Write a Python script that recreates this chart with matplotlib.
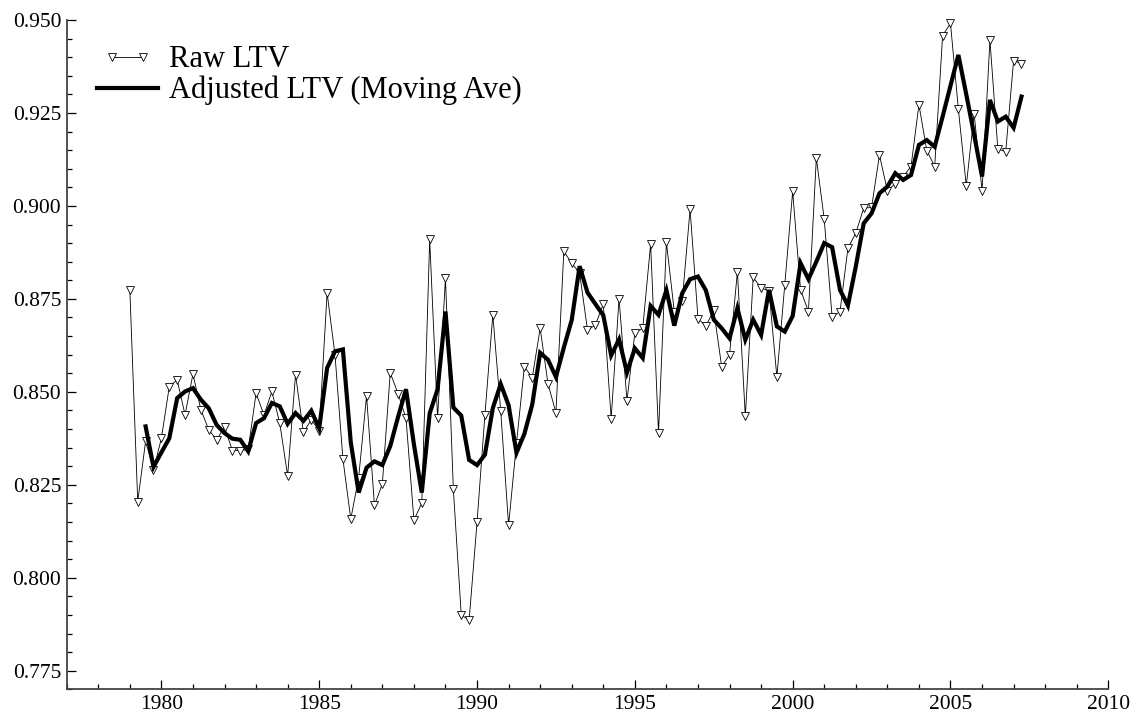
import matplotlib
matplotlib.use("Agg")
import matplotlib.pyplot as plt
from matplotlib.ticker import MultipleLocator, FormatStrFormatter
from matplotlib.legend_handler import HandlerLine2D
import numpy as np

# ---- data (quarterly) ----
raw_start = 1979.0
raw_ltv = [
    0.8775, 0.8205, 0.8367, 0.8290,   # 1979
    0.8375, 0.8514, 0.8532, 0.8438,   # 1980
    0.8548, 0.8452, 0.8398, 0.8371,   # 1981
    0.8405, 0.8342, 0.8342, 0.8345,   # 1982
    0.8496, 0.8438, 0.8501, 0.8416,   # 1983
    0.8274, 0.8546, 0.8391, 0.8425,   # 1984
    0.8396, 0.8766, 0.8600, 0.8320,   # 1985
    0.8158, 0.8269, 0.8489, 0.8195,   # 1986
    0.8252, 0.8551, 0.8495, 0.8429,   # 1987
    0.8155, 0.8201, 0.8910, 0.8429,   # 1988
    0.8806, 0.8238, 0.7900, 0.7886,   # 1989
    0.8149, 0.8438, 0.8707, 0.8449,   # 1990
    0.8141, 0.8362, 0.8568, 0.8538,   # 1991
    0.8671, 0.8521, 0.8444, 0.8878,   # 1992
    0.8846, 0.8820, 0.8666, 0.8680,   # 1993
    0.8736, 0.8428, 0.8751, 0.8476,   # 1994
    0.8658, 0.8671, 0.8897, 0.8389,   # 1995
    0.8902, 0.8716, 0.8743, 0.8991,   # 1996
    0.8697, 0.8677, 0.8719, 0.8568,   # 1997
    0.8600, 0.8823, 0.8434, 0.8808,   # 1998
    0.8779, 0.8772, 0.8540, 0.8788,   # 1999
    0.9039, 0.8774, 0.8716, 0.9129,   # 2000
    0.8964, 0.8701, 0.8716, 0.8886,   # 2001
    0.8927, 0.8994, 0.8996, 0.9137,   # 2002
    0.9041, 0.9060, 0.9079, 0.9106,   # 2003
    0.9272, 0.9149, 0.9106, 0.9458,   # 2004
    0.9491, 0.9260, 0.9054, 0.9247,   # 2005
    0.9041, 0.9446, 0.9153, 0.9146,   # 2006
    0.9391, 0.9382,                   # 2007
]

adj_start = 1979.5
adjusted_ltv = [
    0.8407, 0.8298,                   # 1979
    0.8337, 0.8375, 0.8483, 0.8501,   # 1980
    0.8510, 0.8479, 0.8456, 0.8411,   # 1981
    0.8389, 0.8374, 0.8371, 0.8340,   # 1982
    0.8416, 0.8429, 0.8470, 0.8461,   # 1983
    0.8414, 0.8443, 0.8422, 0.8449,   # 1984
    0.8402, 0.8564, 0.8609, 0.8614,   # 1985
    0.8364, 0.8229, 0.8296, 0.8313,   # 1986
    0.8303, 0.8354, 0.8433, 0.8507,   # 1987
    0.8359, 0.8229, 0.8442, 0.8507,   # 1988
    0.8716, 0.8458, 0.8436, 0.8317,   # 1989
    0.8303, 0.8331, 0.8456, 0.8521,   # 1990
    0.8464, 0.8336, 0.8387, 0.8466,   # 1991
    0.8605, 0.8586, 0.8540, 0.8619,   # 1992
    0.8693, 0.8838, 0.8767, 0.8736,   # 1993
    0.8706, 0.8598, 0.8641, 0.8552,   # 1994
    0.8617, 0.8591, 0.8731, 0.8707,   # 1995
    0.8773, 0.8678, 0.8765, 0.8803,   # 1996
    0.8810, 0.8773, 0.8694, 0.8671,   # 1997
    0.8644, 0.8725, 0.8640, 0.8694,   # 1998
    0.8653, 0.8774, 0.8676, 0.8662,   # 1999
    0.8704, 0.8846, 0.8803, 0.8850,   # 2000
    0.8900, 0.8889, 0.8774, 0.8732,   # 2001
    0.8837, 0.8953, 0.8980, 0.9034,   # 2002
    0.9052, 0.9088, 0.9070, 0.9083,   # 2003
    0.9164, 0.9177, 0.9159, 0.9240,   # 2004
    0.9323, 0.9406, 0.9300, 0.9191,   # 2005
    0.9079, 0.9285, 0.9227, 0.9240,   # 2006
    0.9210, 0.9294,                   # 2007
]

series_labels = ["Raw LTV", "Adjusted LTV (Moving Ave)"]
x_ticks = [1980, 1985, 1990, 1995, 2000, 2005, 2010]
y_ticks = [0.775, 0.800, 0.825, 0.850, 0.875, 0.900, 0.925, 0.950]

raw_x = raw_start + 0.25 * np.arange(len(raw_ltv))
adj_x = adj_start + 0.25 * np.arange(len(adjusted_ltv))

plt.rcParams['font.family'] = ['Liberation Serif', 'DejaVu Serif']

fig = plt.figure(figsize=(11.43, 7.2), dpi=100)
ax = fig.add_axes([66.7 / 1143, 30.7 / 720, (1108.3 - 66.7) / 1143, (689.3 - 20) / 720])

l1, = ax.plot(raw_x, raw_ltv, color='black', lw=0.6, marker='v', markersize=5.2,
              markerfacecolor='white', markeredgecolor='black', markeredgewidth=0.6,
              label=series_labels[0], zorder=2, clip_on=False)
l2, = ax.plot(adj_x, adjusted_ltv, color='black', lw=3.0, solid_joinstyle='miter',
              label=series_labels[1], zorder=3, clip_on=False)

ax.set_xlim(1977, 2010)
ax.set_ylim(0.770, 0.950)
ax.set_xticks(x_ticks)
ax.set_yticks(y_ticks)
ax.xaxis.set_minor_locator(MultipleLocator(1))
ax.yaxis.set_minor_locator(MultipleLocator(0.005))
ax.yaxis.set_major_formatter(FormatStrFormatter('%.3f'))

for s in ['top', 'right']:
    ax.spines[s].set_visible(False)
for s in ['left', 'bottom']:
    ax.spines[s].set_color('#444444')
    ax.spines[s].set_linewidth(1.3)

ax.tick_params(which='both', direction='in', colors='black', labelsize=15.5)
ax.tick_params(which='major', length=6.5, width=0.9, pad=4)
ax.tick_params(which='minor', length=3.5, width=0.9)

leg = ax.legend(handles=[l1, l2], loc='upper left', bbox_to_anchor=(0.029, 0.962),
                frameon=False, fontsize=22, handlelength=2.0, handletextpad=0.37,
                labelspacing=0.05, borderpad=0, borderaxespad=0,
                handler_map={l1: HandlerLine2D(numpoints=2, marker_pad=0.5)})

fig.savefig('out.png', dpi=100)
